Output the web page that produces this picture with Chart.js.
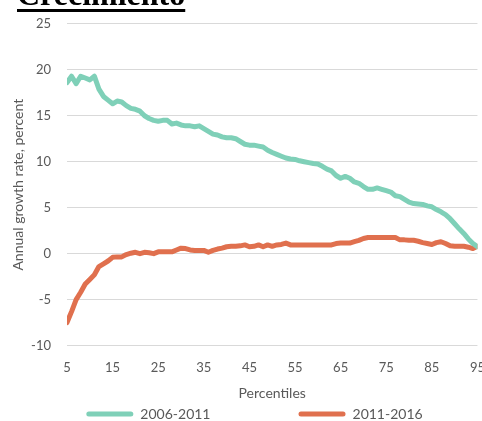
<!DOCTYPE html>
<html>
<head>
<meta charset="utf-8">
<script src="https://cdn.jsdelivr.net/npm/chart.js@4.4.1/dist/chart.umd.min.js"></script>
<style>
  html, body { margin: 0; padding: 0; background: #fff; overflow: hidden; }
  #wrap { position: relative; width: 482px; height: 421px; overflow: hidden; }
  #title {
    position: absolute; left: 17px; top: -22px;
    font-family: "Liberation Serif", "DejaVu Serif", serif;
    font-weight: bold; font-size: 32px; line-height: 32px; color: #000;
    text-decoration: underline; text-decoration-thickness: 3px; text-underline-offset: 4px;
    white-space: nowrap;
  }
</style>
</head>
<body>
<div id="wrap">
  <canvas id="c" width="491" height="421"></canvas>
  <div id="title">Crecimiento</div>
</div>
<script>
// percentiles 5..95
var percentiles = [];
for (var p = 5; p <= 95; p++) percentiles.push(p);

var xTicks = [5, 15, 25, 35, 45, 55, 65, 75, 85, 95];
var yTicks = [25, 20, 15, 10, 5, 0, -5, -10];
var seriesNames = ['2006-2011', '2011-2016'];

var serie0611 = [
    18.6, 19.3, 18.5, 19.3, 19.1, 18.9, 19.3, 17.9, 17.1, 16.7,
    16.3, 16.6, 16.5, 16.1, 15.8, 15.7, 15.5, 15.0, 14.7, 14.5,
    14.4, 14.5, 14.5, 14.1, 14.2, 14.0, 13.9, 13.9, 13.8, 13.9,
    13.6, 13.3, 13.0, 12.9, 12.7, 12.6, 12.6, 12.5, 12.2, 11.9,
    11.8, 11.8, 11.7, 11.6, 11.25, 11.0, 10.8, 10.6, 10.4, 10.3,
    10.25, 10.1, 10.0, 9.9, 9.8, 9.75, 9.5, 9.2, 9.0, 8.5,
    8.2, 8.4, 8.2, 7.8, 7.65, 7.3, 7.0, 7.0, 7.15, 7.0,
    6.85, 6.7, 6.3, 6.2, 5.9, 5.6, 5.45, 5.4, 5.35, 5.2,
    5.1, 4.8, 4.55, 4.25, 3.8, 3.25, 2.7, 2.2, 1.6, 1.1,
    0.75
];

var serie1116 = [
    -7.5, -6.3, -5.0, -4.2, -3.3, -2.8, -2.3, -1.4, -1.1, -0.8,
    -0.4, -0.35, -0.35, -0.1, 0.05, 0.15, 0.0, 0.15, 0.1, 0.0,
    0.2, 0.2, 0.2, 0.2, 0.4, 0.6, 0.55, 0.4, 0.35, 0.35,
    0.35, 0.15, 0.35, 0.5, 0.6, 0.75, 0.8, 0.8, 0.85, 0.95,
    0.75, 0.8, 0.95, 0.75, 0.95, 0.8, 0.95, 1.0, 1.15, 0.95,
    0.95, 0.95, 0.95, 0.95, 0.95, 0.95, 0.95, 0.95, 0.95, 1.1,
    1.15, 1.15, 1.15, 1.3, 1.45, 1.65, 1.75, 1.75, 1.75, 1.75,
    1.75, 1.75, 1.75, 1.5, 1.5, 1.45, 1.45, 1.35, 1.2, 1.1,
    1.0, 1.2, 1.3, 1.1, 0.85, 0.8, 0.8, 0.8, 0.7, 0.55,
    0.8
];

var greenColor = '#7fd0b8';
var redColor = '#e0704e';
var grayText = '#595959';
var fontName = 'Lato, "Open Sans", sans-serif';

function pts(values) {
    return percentiles.map(function (p, i) { return {x: p, y: values[i]}; });
}

// gap between the two legend entries: pad the first label with spaces
var legendPad = 2;
var mctx = document.createElement('canvas').getContext('2d');
mctx.font = '14px ' + fontName;
var spaceW = mctx.measureText('\u00a0').width || 3;
var nSpaces = Math.max(0, Math.round((87 - legendPad) / spaceW));
var firstLabel = seriesNames[0] + new Array(nSpaces + 1).join('\u00a0');

new Chart(document.getElementById('c'), {
    type: 'line',
    data: {
        datasets: [{
            label: seriesNames[0],
            data: pts(serie0611),
            borderColor: greenColor,
            borderWidth: 5,
            pointRadius: 0,
            tension: 0,
            borderCapStyle: 'round',
            borderJoinStyle: 'round'
        }, {
            label: seriesNames[1],
            data: pts(serie1116),
            borderColor: redColor,
            borderWidth: 5,
            pointRadius: 0,
            tension: 0,
            borderCapStyle: 'round',
            borderJoinStyle: 'round'
        }]
    },
    options: {
        responsive: false,
        animation: false,
        layout: {padding: {left: 18, top: 16, right: 0, bottom: -10}},
        plugins: {
            tooltip: {enabled: false},
            legend: {
                position: 'bottom',
                labels: {
                    color: grayText,
                    font: {family: fontName, size: 14},
                    boxWidth: 47,
                    boxHeight: 5,
                    padding: legendPad,
                    generateLabels: function (chart) {
                        return chart.data.datasets.map(function (ds, i) {
                            return {
                                text: i === 0 ? firstLabel : ds.label,
                                fillStyle: ds.borderColor,
                                strokeStyle: ds.borderColor,
                                lineWidth: 0,
                                borderRadius: 2.5,
                                fontColor: grayText,
                                datasetIndex: i
                            };
                        });
                    }
                }
            }
        },
        scales: {
            x: {
                type: 'linear',
                min: 5,
                max: 95,
                afterBuildTicks: function (scale) {
                    scale.ticks = xTicks.map(function (v) { return {value: v}; });
                },
                grid: {display: false},
                border: {display: false},
                ticks: {color: grayText, font: {family: fontName, size: 13}, padding: 6, maxRotation: 0},
                title: {
                    display: true, text: 'Percentiles', color: grayText,
                    font: {family: fontName, size: 14}, padding: {top: 4, bottom: 3}
                }
            },
            y: {
                min: -10,
                max: 25,
                afterBuildTicks: function (scale) {
                    scale.ticks = yTicks.map(function (v) { return {value: v}; });
                },
                afterFit: function (scale) { scale.width = 49; },
                grid: {color: '#d9d9d9', lineWidth: 1, drawTicks: false},
                border: {display: false},
                ticks: {color: grayText, font: {family: fontName, size: 13}, padding: 16},
                title: {
                    display: true, text: 'Annual growth rate, percent', color: grayText,
                    font: {family: fontName, size: 14}, padding: {top: -8, bottom: 0}
                }
            }
        }
    }
});
</script>
</body>
</html>
